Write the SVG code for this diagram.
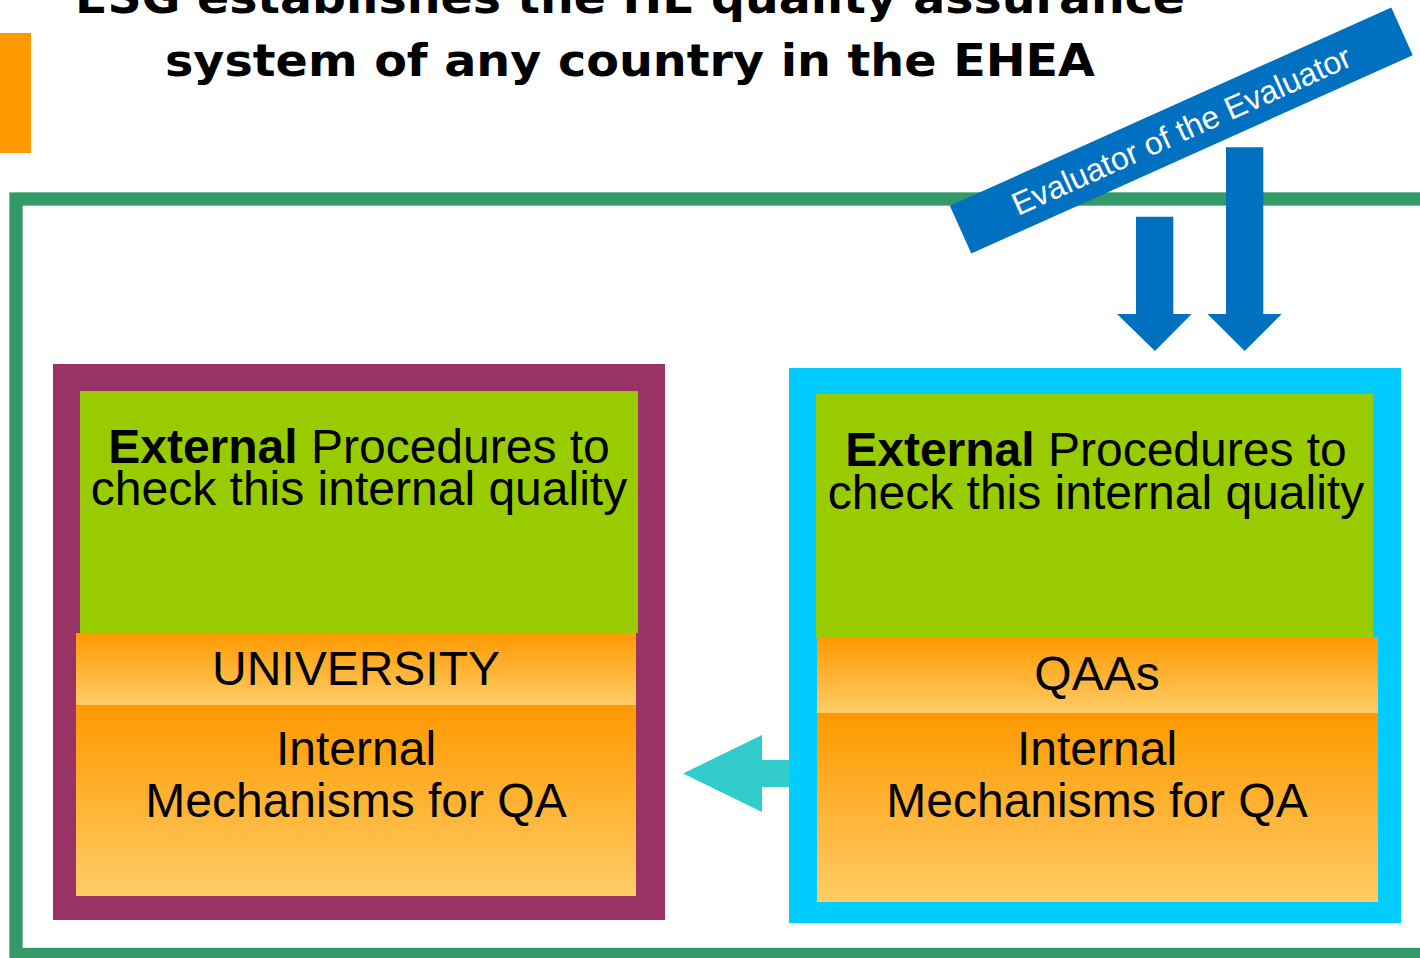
<svg xmlns="http://www.w3.org/2000/svg" width="1420" height="958" viewBox="0 0 1420 958">
<defs>
<linearGradient id="og" x1="0" y1="0" x2="0" y2="1">
<stop offset="0" stop-color="#FF9900"/>
<stop offset="1" stop-color="#FFCC66"/>
</linearGradient>
<style>
.title{font-family:"DejaVu Sans",Verdana,sans-serif;font-weight:bold;font-size:45px;fill:#000;text-anchor:middle}
.lbl{font-family:"Liberation Sans",Arial,sans-serif;font-size:48px;fill:#000;text-anchor:middle}
.b{font-weight:bold}
.green{fill:#99CC00}
.band{fill:url(#og)}
.blue{fill:#0070C0}
</style>
</defs>
<rect width="1420" height="958" fill="#fff"/>
<g id="title">
<text class="title" x="630" y="13" textLength="1110" lengthAdjust="spacingAndGlyphs">ESG establishes the HE quality assurance</text>
<text class="title" x="630" y="76" textLength="930" lengthAdjust="spacingAndGlyphs">system of any country in the EHEA</text>
</g>
<rect id="accent" x="0" y="33" width="31" height="120" fill="#FF9900"/>
<g id="frame">
<rect x="16" y="199" width="1440" height="755.5" fill="none" stroke="#339966" stroke-width="13.3"/>
</g>
<g id="university">
<rect x="53" y="364" width="612" height="556" fill="#993366"/>
<rect class="green" x="80" y="391" width="558" height="242"/>
<rect class="band" x="76" y="633" width="560" height="72"/>
<rect class="band" x="76" y="705" width="560" height="191"/>
<text class="lbl" x="359" y="463"><tspan class="b">External</tspan> Procedures to</text>
<text class="lbl" x="359" y="505">check this internal quality</text>
<text class="lbl" x="356" y="685">UNIVERSITY</text>
<text class="lbl" x="356" y="765">Internal</text>
<text class="lbl" x="356" y="817">Mechanisms for QA</text>
</g>
<g id="qaas">
<rect x="789" y="368" width="612" height="555" fill="#00CCFF"/>
<rect class="green" x="816" y="394" width="557" height="244"/>
<rect class="band" x="817" y="637" width="561" height="76"/>
<rect class="band" x="817" y="713" width="561" height="189"/>
<text class="lbl" x="1096" y="466"><tspan class="b">External</tspan> Procedures to</text>
<text class="lbl" x="1096" y="509">check this internal quality</text>
<text class="lbl" x="1097" y="690">QAAs</text>
<text class="lbl" x="1097" y="765">Internal</text>
<text class="lbl" x="1097" y="817">Mechanisms for QA</text>
</g>
<g id="evaluator" transform="translate(1181.3,130.5) rotate(-24.2)">
<rect class="blue" x="-242" y="-26.2" width="484" height="52.4"/>
<text x="0" y="11" font-family="'Liberation Sans',Arial,sans-serif" font-size="32" fill="#fff" text-anchor="middle">Evaluator of the Evaluator</text>
</g>
<g id="connectors">
<polygon class="blue" points="1136,216.7 1173.3,216.7 1173.3,314 1191.7,314 1155,351 1117,314 1136,314"/>
<polygon class="blue" points="1226,147.3 1263.3,147.3 1263.3,314 1281.7,314 1244.7,351 1207.5,314 1226,314"/>
<polygon fill="#33CCCC" points="789,760 762,760 762,735 683,773.5 762,812 762,787 789,787"/>
</g>
</svg>
